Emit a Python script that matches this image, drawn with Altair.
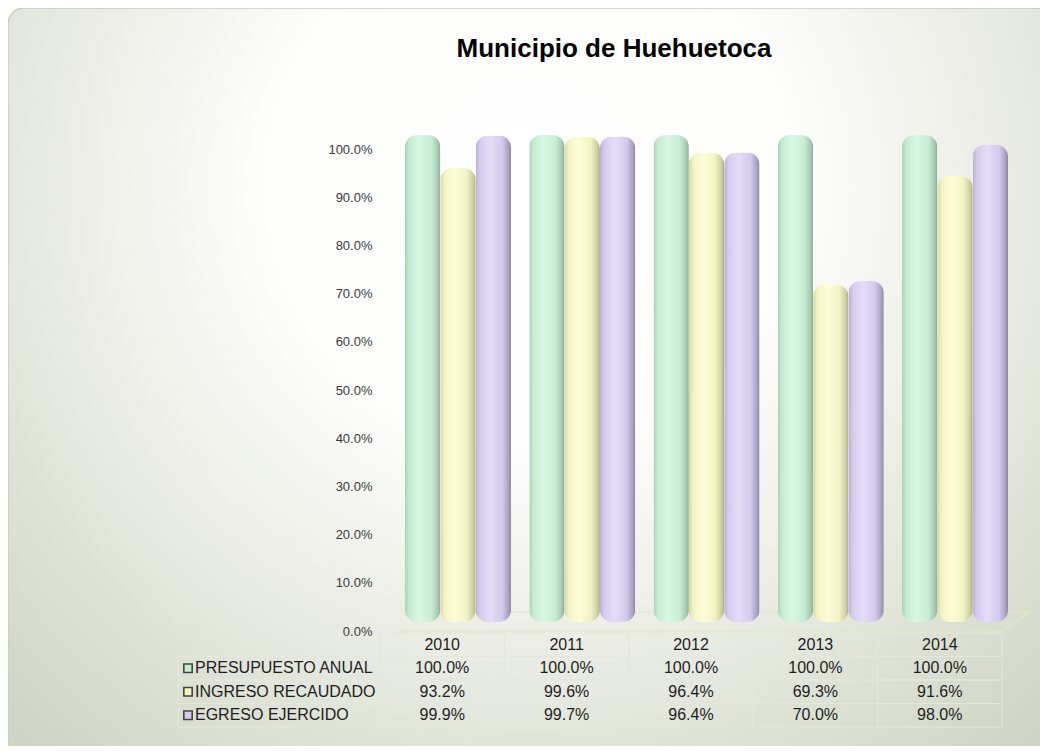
import altair as alt
import pandas as pd

# ---------------- data ----------------
years = ["2010", "2011", "2012", "2013", "2014"]
series = ["PRESUPUESTO ANUAL", "INGRESO RECAUDADO", "EGRESO EJERCIDO"]
presupuesto = [100.0, 100.0, 100.0, 100.0, 100.0]
ingreso = [93.2, 99.6, 96.4, 69.3, 91.6]
egreso = [99.9, 99.7, 96.4, 70.0, 98.0]
y_ticks = [0, 10, 20, 30, 40, 50, 60, 70, 80, 90, 100]
swatch_colors = ["#c6ecd2", "#f4f6c4", "#d6cbef"]

rows = []
for s, vals in zip(series, [presupuesto, ingreso, egreso]):
    for yr, v in zip(years, vals):
        rows.append({"year": yr, "series": s, "value": v, "label": f"{v:.1f}%"})
df = pd.DataFrame(rows)

table_rows = ["year"] + series
tbl = [{"year": yr, "row": "year", "label": yr} for yr in years]
tbl += [{"year": r["year"], "row": r["series"], "label": r["label"]} for r in rows]
df_tbl = pd.DataFrame(tbl)
df_lab = pd.DataFrame({"row": series})

FONT = "Liberation Sans"


def grad(stops):
    return alt.LinearGradient(
        gradient="linear", x1=0, x2=1, y1=0, y2=0,
        stops=[alt.GradientStop(offset=o, color=c) for o, c in stops],
    )


g_green = grad([(0, "#a9d3b5"), (0.12, "#c6ebd1"), (0.4, "#d9f8e4"),
                (0.75, "#c8ecd3"), (0.93, "#a7c7b0"), (1, "#8dab95")])
g_yellow = grad([(0, "#d8d8a6"), (0.12, "#f2f3c4"), (0.4, "#fdfed8"),
                 (0.75, "#f1f2c3"), (0.93, "#cdcda0"), (1, "#aaaa84")])
g_purple = grad([(0, "#baaed4"), (0.12, "#d6cbef"), (0.4, "#e5ddf8"),
                 (0.75, "#d4caed"), (0.93, "#aaa0c2"), (1, "#8c84a4")])

bg_grad = alt.RadialGradient(
    gradient="radial", x1=0.5, y1=0.3, r1=0, x2=0.5, y2=0.3, r2=0.72,
    stops=[alt.GradientStop(offset=0, color="#ffffff"),
           alt.GradientStop(offset=0.35, color="#fdfdfc"),
           alt.GradientStop(offset=0.6, color="#eceee6"),
           alt.GradientStop(offset=0.85, color="#d9ded0"),
           alt.GradientStop(offset=1, color="#ced5c4")],
)

one = pd.DataFrame({"v": [0]})

# ---------------- background frame ----------------
bg = alt.Chart(one).mark_rect(
    fill=bg_grad, stroke="#c8ccbf", strokeWidth=1.5, cornerRadius=16
).encode(
    x=alt.value(-372), x2=alt.value(672),
    y=alt.value(-122), y2=alt.value(650),
)

# ---------------- floor + percentage axis ----------------
floor_col = "#e2e8c4"
floor_front = alt.Chart(one).mark_rule(color=floor_col, strokeWidth=1.2).encode(
    y=alt.Y("v:Q",
            scale=alt.Scale(domain=[0, 100], range=[501, 19], nice=False, zero=True),
            axis=alt.Axis(orient="left", values=y_ticks, zindex=2,
                          labelExpr="format(datum.value / 100, '.1%')",
                          domain=False, ticks=False, grid=False, title=None,
                          labelFont=FONT, labelFontSize=13, labelColor="#3a3a3a",
                          labelPadding=8)),
    x=alt.value(18), x2=alt.value(620),
)
floor_diag = alt.Chart(one).mark_rule(color=floor_col, strokeWidth=1.2).encode(
    x=alt.value(620), x2=alt.value(650), y=alt.value(502), y2=alt.value(482)
)
floor_back = alt.Chart(one).mark_rule(color=floor_col, strokeWidth=1.2).encode(
    x=alt.value(48), x2=alt.value(650), y=alt.value(482), y2=alt.value(482)
)

# ---------------- cylinder bars ----------------
bars = alt.Chart(df).mark_bar(cornerRadius=12).encode(
    x=alt.X("year:N",
            scale=alt.Scale(domain=years, range=[25, 628], paddingInner=0.147, paddingOuter=0),
            axis=None),
    xOffset=alt.XOffset("series:N", scale=alt.Scale(domain=series, paddingInner=0, paddingOuter=0)),
    y=alt.Y("value:Q", scale=alt.Scale(domain=[0, 100], range=[492, 5], nice=False), axis=None),
    fill=alt.FillValue(
        value=g_purple.to_dict(),
        condition=[
            {"test": "datum.series === 'PRESUPUESTO ANUAL'", "value": g_green.to_dict()},
            {"test": "datum.series === 'INGRESO RECAUDADO'", "value": g_yellow.to_dict()},
        ],
    ),
)

# ---------------- data table ----------------
tx = alt.X("year:N", scale=alt.Scale(domain=years, range=[0, 622], paddingInner=0, paddingOuter=0), axis=None)
ty = alt.Y("row:N", scale=alt.Scale(domain=table_rows, range=[503, 597], paddingInner=0, paddingOuter=0), axis=None)
grid_col = "#e4e7dc"

cells = alt.Chart(df_tbl).mark_rect(fillOpacity=0, stroke=grid_col, strokeWidth=1).encode(x=tx, y=ty)
label_cells = alt.Chart(df_lab).mark_rect(fillOpacity=0, stroke=grid_col, strokeWidth=1).encode(
    x=alt.value(-202), x2=alt.value(0), y=ty
)
cell_text = alt.Chart(df_tbl).mark_text(font=FONT, fontSize=16, color="#1e1e1e").encode(
    x=tx, y=ty, text="label:N"
)
row_text = alt.Chart(df_lab).mark_text(font=FONT, fontSize=16, color="#1e1e1e", align="left").encode(
    x=alt.value(-185), y=ty, text="row:N"
)
markers = alt.Chart(df_lab).mark_square(size=70, opacity=1, stroke="#444444", strokeWidth=1.6).encode(
    x=alt.value(-192), y=ty,
    fill=alt.Fill("row:N", scale=alt.Scale(domain=series, range=swatch_colors), legend=None),
)
table = alt.layer(cells, label_cells, cell_text, row_text, markers)

chart = alt.layer(bg, floor_front, floor_diag, floor_back, bars, table).resolve_scale(
    x="independent", y="independent", fill="independent"
).resolve_axis(y="independent").properties(
    width=632, height=502,
    padding={"left": 372, "top": 122, "right": 28, "bottom": 114},
    autosize=alt.AutoSizeParams(type="none"),
    title=alt.TitleParams(
        text="Municipio de Huehuetoca", font=FONT, fontSize=26, fontWeight="bold",
        color="#000000", anchor="middle", frame="group", offset=0, dx=-82, dy=76,
        baseline="alphabetic",
    ),
).configure_view(stroke=None).configure(background="#ffffff")

chart.save("out.html", embed_options={"renderer": "svg", "actions": False})
